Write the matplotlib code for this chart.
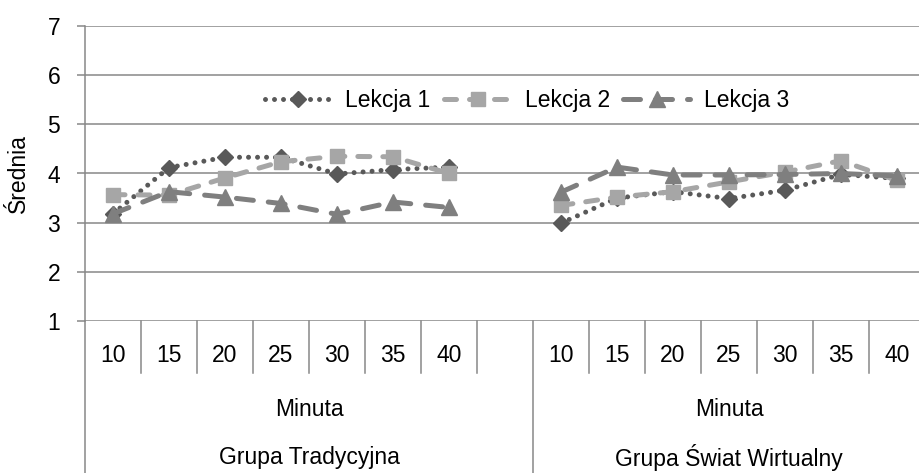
import numpy as np
import matplotlib.pyplot as plt
from matplotlib.transforms import blended_transform_factory
from matplotlib.lines import Line2D

plt.rcParams['font.family'] = ['Liberation Sans', 'DejaVu Sans']

# data
minutes = ['10', '15', '20', '25', '30', '35', '40']
groups = ['Grupa Tradycyjna', 'Grupa Świat Wirtualny']
level2 = 'Minuta'

lekcja1_trad = [3.18, 4.12, 4.33, 4.33, 3.99, 4.08, 4.13]
lekcja2_trad = [3.57, 3.56, 3.91, 4.24, 4.35, 4.34, 4.00]
lekcja3_trad = [3.18, 3.63, 3.52, 3.39, 3.17, 3.42, 3.31]

lekcja1_wirt = [2.99, 3.50, 3.63, 3.49, 3.66, 3.98, 3.90]
lekcja2_wirt = [3.35, 3.52, 3.63, 3.83, 4.03, 4.26, 3.86]
lekcja3_wirt = [3.62, 4.13, 3.97, 3.97, 3.98, 4.00, 3.95]

W, H = 919, 473
fig = plt.figure(figsize=(W / 100, H / 100), dpi=100)

def fy(px):
    return 1 - px / H

ax_left, ax_right, ax_top, ax_bot = 85, 925, 26, 321
ax = fig.add_axes([ax_left / W, fy(ax_bot), (ax_right - ax_left) / W, (ax_bot - ax_top) / H])

n = len(minutes)
cats = minutes + [''] + minutes          # empty slot between groups
x = np.arange(len(cats))

def join(a, b):
    return np.array(a + [np.nan] + b, dtype=float)

grid_col = '#878787'
series = [
    ('Lekcja 1', join(lekcja1_trad, lekcja1_wirt), '#595959', (0, (0.001, 1.8)), 'D', 8.5),
    ('Lekcja 2', join(lekcja2_trad, lekcja2_wirt), '#a6a6a6', (0, (2.4, 2.6)), 's', 10),
    ('Lekcja 3', join(lekcja3_trad, lekcja3_wirt), '#7f7f7f', (0, (3.4, 3.0)), '^', 11),
]

handles = []
for name, vals, col, ls, mk, ms in series:
    ax.plot(x, vals, color=col, lw=3.6, linestyle=ls, dash_capstyle='round',
            marker=mk, markersize=ms, markerfacecolor=col, markeredgecolor=col,
            zorder=3)
    handles.append(Line2D([], [], color=col, lw=3.6, linestyle=ls, dash_capstyle='round',
                          marker=mk, markersize=ms, markerfacecolor=col,
                          markeredgecolor=col))

ax.set_xlim(-0.5, len(cats) - 0.5)
ax.set_ylim(1, 7)
ax.set_yticks(range(1, 8))
ax.yaxis.grid(True, color=grid_col, lw=1.1)
ax.set_axisbelow(True)
ax.set_xticks([])
for s in ['top', 'right', 'bottom']:
    ax.spines[s].set_visible(False)
ax.spines['left'].set_color(grid_col)
ax.spines['left'].set_linewidth(1.1)
ax.tick_params(axis='y', length=5.8, width=1.1, color=grid_col, pad=12, labelsize=16.5)
ax.set_ylabel('Średnia', fontsize=16.5, labelpad=8)
ax.yaxis.set_label_coords(18 / W - ax_left / W, 0.5, transform=None)
ax.yaxis.label.set_position((0, 0.5))
fig.text(18 / W, fy(174), 'Średnia', rotation=90, ha='center', va='center', fontsize=16.5)
ax.set_ylabel('')

# multi-level category axis
tr = blended_transform_factory(ax.transData, fig.transFigure)
for i, c in enumerate(cats):
    if c:
        fig.text(0, 0, c, transform=tr, fontsize=16.5, ha='center', va='center') \
            .set_position((x[i], fy(355)))

for b in np.arange(-0.5, len(cats), 1.0):
    long_line = b in (-0.5, n + 0.5, len(cats) - 0.5)
    y_end = H if long_line else 373
    ax.plot([b, b], [fy(ax_bot), fy(y_end)], transform=tr, color=grid_col,
            lw=1.1, clip_on=False)

spans = [(-0.5, n + 0.5), (n + 0.5, len(cats) - 0.5)]
for (a, b), g in zip(spans, groups):
    mid = (a + b) / 2
    fig.text(0, 0, level2, transform=tr, fontsize=16.5, ha='center', va='center') \
        .set_position((mid, fy(409)))
    fig.text(0, 0, g, transform=tr, fontsize=16.5, ha='center', va='center') \
        .set_position((mid, fy(457)))

fig.legend(handles=handles, labels=[s[0] for s in series], loc='center',
           bbox_to_anchor=(527 / W, fy(101)), ncol=3, frameon=False,
           handlelength=2.9, handletextpad=0.6, columnspacing=0.6,
           fontsize=16.5, numpoints=1)

fig.savefig('out.png', dpi=100)
